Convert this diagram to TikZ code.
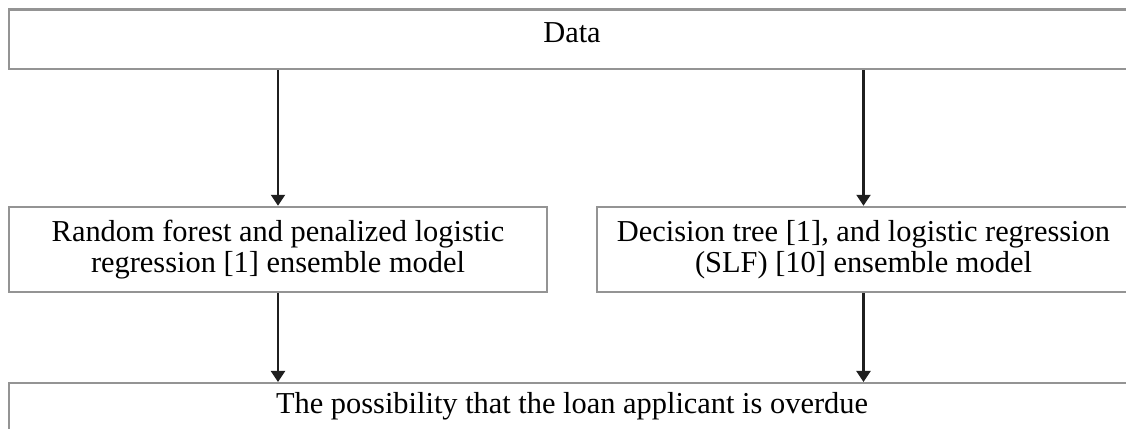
\documentclass[tikz,border=0pt]{standalone}
\usepackage{fontspec}
\setmainfont{Liberation Serif}
\usetikzlibrary{arrows.meta}

\begin{document}
\begin{tikzpicture}[>={Triangle[length=2.2mm,width=2.8mm]},font=\fontsize{17.3}{17.8}\selectfont,
  box/.style={draw=black!42,line width=1.4pt,inner xsep=0pt},
  link/.style={->,draw=black!88,line width=1.3pt}]
\clip (0,0) rectangle (22.52,8.58);
\node[box,minimum width=22.52cm,inner ysep=1mm,text height=5.7mm,text depth=4.2mm] (data) at (11.44,7.795) {Data};
\node[box,minimum width=10.76cm,minimum height=1.7cm,align=center] (rfl) at (5.56,3.59) {Random forest and penalized logistic\\regression [1] ensemble model};
\node[box,minimum width=10.66cm,minimum height=1.7cm,align=center] (dtl) at (17.27,3.59) {Decision tree [1], and logistic regression\\(SLF) [10] ensemble model};
\node[box,anchor=north,minimum width=22.52cm,inner ysep=1.8mm,text height=4.2mm,text depth=8mm] (risk) at (11.44,0.94) {The possibility that the loan applicant is overdue};
\draw[link] (data.south -| rfl.north) -- (rfl.north);
\draw[link] (data.south -| dtl.north) -- (dtl.north);
\draw[link] (rfl.south) -- (rfl.south |- risk.north);
\draw[link] (dtl.south) -- (dtl.south |- risk.north);
\end{tikzpicture}
\end{document}
